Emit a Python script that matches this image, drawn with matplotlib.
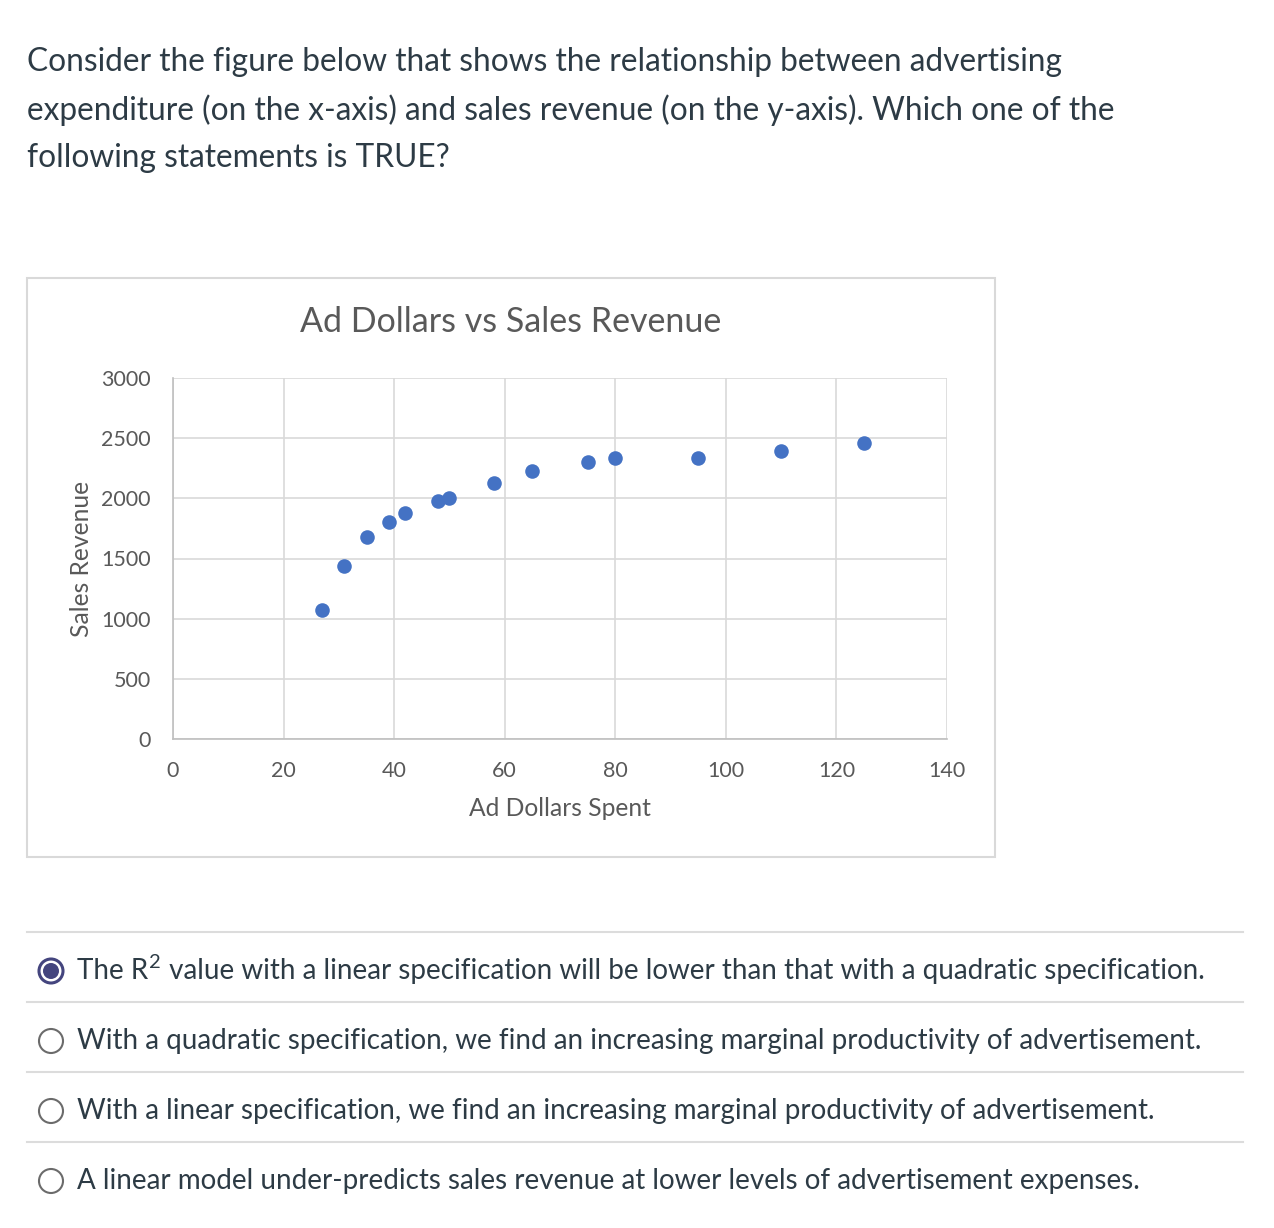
import matplotlib
matplotlib.use("Agg")
import matplotlib.pyplot as plt
from matplotlib.patches import Circle, Rectangle

# ---- data ----
ad_dollars = [27, 31, 35, 39, 42, 48, 50, 58, 65, 75, 80, 95, 110, 125]
sales_revenue = [1075, 1440, 1676, 1801, 1875, 1980, 2000, 2125, 2227, 2304, 2332, 2337, 2395, 2457]
x_ticks = [0, 20, 40, 60, 80, 100, 120, 140]
y_ticks = [0, 500, 1000, 1500, 2000, 2500, 3000]

question_lines = [
    "Consider the figure below that shows the relationship between advertising",
    "expenditure (on the x-axis) and sales revenue (on the y-axis). Which one of the",
    "following statements is TRUE?",
]
options = [
    ("The R", "2", " value with a linear specification will be lower than that with a quadratic specification."),
    ("With a quadratic specification, we find an increasing marginal productivity of advertisement.", "", ""),
    ("With a linear specification, we find an increasing marginal productivity of advertisement.", "", ""),
    ("A linear model under-predicts sales revenue at lower levels of advertisement expenses.", "", ""),
]
selected = 0

W, H = 1274, 1228
fig = plt.figure(figsize=(W / 100, H / 100), dpi=100)
fig.patch.set_facecolor("white")

# overlay axes in pixel coords
ov = fig.add_axes([0, 0, 1, 1], zorder=0)
ov.set_xlim(0, W)
ov.set_ylim(H, 0)
ov.axis("off")

TXT = "#2d3b45"
FONT = "Lato"

for i, line in enumerate(question_lines):
    ov.text(27, 62 + 48 * i, line, fontsize=22.8, family=FONT, color=TXT,
            va="center", ha="left")

# chart frame
ov.add_patch(Rectangle((27, 278), 968, 579, fill=False, edgecolor="#d9d9d9", lw=1.5))

CH = "#595959"
ov.text(511, 322, "Ad Dollars vs Sales Revenue", fontsize=24.5, family=FONT, color=CH,
        ha="center", va="center")

# chart axes
L, R, T, B = 173, 947, 378, 739
ax = fig.add_axes([L / W, 1 - B / H, (R - L) / W, (B - T) / H], zorder=1)
ax.set_facecolor("none")
ax.scatter(ad_dollars, sales_revenue, s=110, color="#4472C4", zorder=3, linewidths=0)
ax.set_xlim(x_ticks[0], x_ticks[-1])
ax.set_ylim(y_ticks[0], y_ticks[-1])
ax.set_xticks(x_ticks)
ax.set_yticks(y_ticks)
ax.grid(True, color="#d9d9d9", lw=1.2)
ax.set_axisbelow(True)
for s in ["top", "right"]:
    ax.spines[s].set_visible(False)
for s in ["left", "bottom"]:
    ax.spines[s].set_color("#bfbfbf")
    ax.spines[s].set_linewidth(1.2)
ax.tick_params(length=0, labelsize=15.5, labelcolor=CH)
ax.tick_params(axis="x", pad=16)
ax.tick_params(axis="y", pad=16)
for lab in ax.get_xticklabels() + ax.get_yticklabels():
    lab.set_family(FONT)
ax.set_xlabel("Ad Dollars Spent", fontsize=17.7, family=FONT, color=CH, labelpad=11)
ax.set_ylabel("Sales Revenue", fontsize=17.7, family=FONT, color=CH, labelpad=6)

# options
for k in range(4):
    ov.plot([27, 1243], [932 + 70 * k, 932 + 70 * k], color="#dcdcdc", lw=1.5)

renderer = fig.canvas.get_renderer()
FS = 20.0
for i, (a, sup, b) in enumerate(options):
    yc = 971 + 70 * i
    if i == selected:
        ov.add_patch(Circle((51, yc), 12, facecolor="white", edgecolor="#44457e", lw=2.2))
        ov.add_patch(Circle((51, yc), 8, facecolor="#44457e", edgecolor="none"))
    else:
        ov.add_patch(Circle((51, yc), 12, facecolor="white", edgecolor="#6b6b6b", lw=1.5))
    t = ov.text(77, yc, a, fontsize=FS, family=FONT, color=TXT, va="center", ha="left")
    if sup:
        bb = t.get_window_extent(renderer)
        x1 = bb.x1
        t2 = ov.text(x1 + 1, H - (yc - 9), sup, fontsize=14.5, family=FONT, color=TXT,
                     va="center", ha="left", transform=None)
        bb2 = t2.get_window_extent(renderer)
        ov.text(bb2.x1 + 1, H - yc, b, fontsize=FS, family=FONT, color=TXT, va="center",
                ha="left", transform=None)

fig.savefig("out.png", dpi=100, facecolor="white")
